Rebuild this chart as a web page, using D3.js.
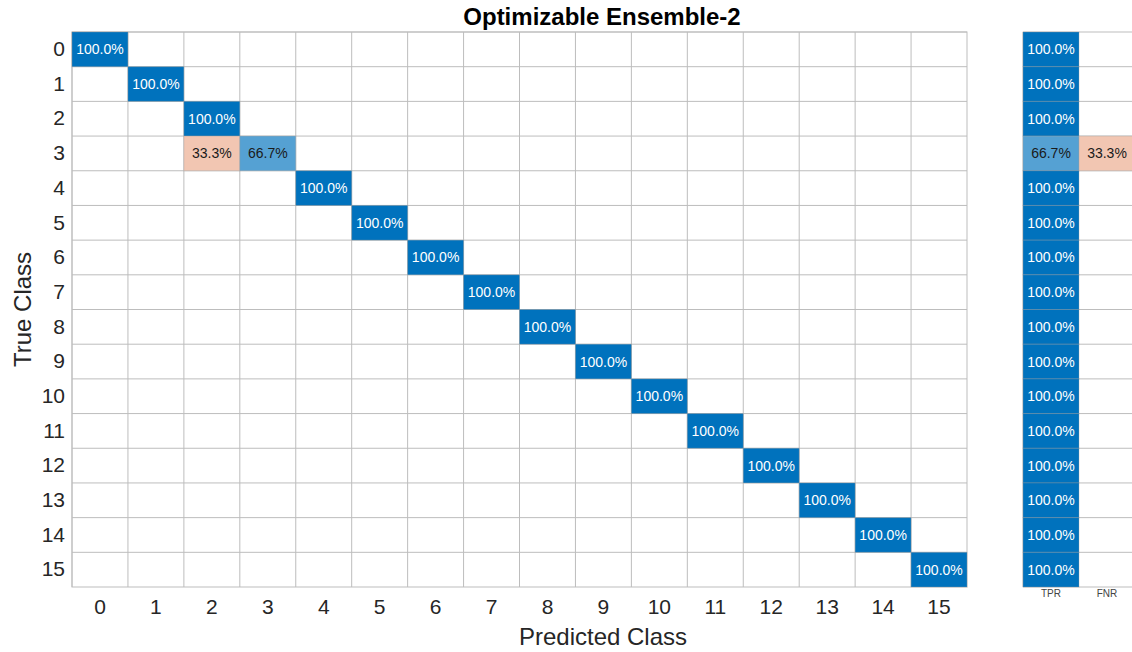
<!DOCTYPE html>
<html>
<head>
<meta charset="utf-8">
<script src="https://cdn.jsdelivr.net/npm/d3@7"></script>
<style>
  body { margin: 0; background: #fff; }
  svg { display: block; font-family: "Liberation Sans", Arial, Helvetica, sans-serif; }
</style>
</head>
<body>
<svg id="chart" width="1132" height="652"></svg>
<script>
// Class labels
const classes = ["0","1","2","3","4","5","6","7","8","9","10","11","12","13","14","15"];

// Row-normalised confusion matrix cells: [true class, predicted class, percent]
const cellTrue = [0, 1, 2, 3, 3, 4, 5, 6, 7, 8, 9, 10, 11, 12, 13, 14, 15];
const cellPred = [0, 1, 2, 2, 3, 4, 5, 6, 7, 8, 9, 10, 11, 12, 13, 14, 15];
const cellPct  = [100, 100, 100, 33.3, 66.7, 100, 100, 100, 100, 100, 100, 100, 100, 100, 100, 100, 100];

// Per-class true positive / false negative rates (percent)
const tpr = [100, 100, 100, 66.7, 100, 100, 100, 100, 100, 100, 100, 100, 100, 100, 100, 100];
const fnr = [0, 0, 0, 33.3, 0, 0, 0, 0, 0, 0, 0, 0, 0, 0, 0, 0];
const summaryCols = ["TPR", "FNR"];

const svg = d3.select("#chart");

const main = { left: 72, right: 967, top: 32, bottom: 587 };
const side = { left: 1023, right: 1135 };

const x = d3.scaleBand().domain(classes).range([main.left, main.right]);
const y = d3.scaleBand().domain(classes).range([main.top, main.bottom]);
const xs = d3.scaleBand().domain(summaryCols).range([side.left, side.right]);

const diagColor = d3.rgb(0, 114, 189);
const offColor = d3.rgb(217, 83, 25);
const diagScale = d3.scaleLinear().domain([0, 100]).range(["#ffffff", diagColor]).interpolate(d3.interpolateRgb);
const offScale = d3.scaleLinear().domain([0, 100]).range(["#ffffff", offColor]).interpolate(d3.interpolateRgb);
const textColor = v => v > 75 ? "#ffffff" : "#1a1a1a";
const fmt = v => v.toFixed(1) + "%";
const gridColor = "#bdbdbd";

// Main grid lines
const grid = svg.append("g");
classes.forEach(c => {
  grid.append("line").attr("x1", x(c)).attr("x2", x(c))
    .attr("y1", main.top).attr("y2", main.bottom)
    .attr("stroke", gridColor).attr("stroke-width", 1);
  grid.append("line").attr("x1", main.left).attr("x2", main.right)
    .attr("y1", y(c)).attr("y2", y(c))
    .attr("stroke", gridColor).attr("stroke-width", 1);
});
grid.append("rect").attr("x", main.left).attr("y", main.top)
  .attr("width", main.right - main.left).attr("height", main.bottom - main.top)
  .attr("fill", "none").attr("stroke", gridColor);

// Matrix cells
const cells = cellTrue.map((t, i) => ({ t: classes[t], p: classes[cellPred[i]], v: cellPct[i], diag: t === cellPred[i] }));
const cg = svg.append("g").selectAll("g").data(cells).join("g");
cg.append("rect")
  .attr("x", d => x(d.p)).attr("y", d => y(d.t))
  .attr("width", x.bandwidth()).attr("height", y.bandwidth())
  .attr("fill", d => d.diag ? diagScale(d.v) : offScale(d.v))
  .attr("stroke", "#9a9a9a").attr("stroke-opacity", 0.35);
cg.append("text")
  .attr("x", d => x(d.p) + x.bandwidth() / 2)
  .attr("y", d => y(d.t) + y.bandwidth() / 2)
  .attr("text-anchor", "middle").attr("dominant-baseline", "central")
  .attr("font-size", 14)
  .attr("fill", d => textColor(d.v))
  .text(d => fmt(d.v));

// Summary panel (TPR / FNR)
const sg = svg.append("g");
classes.forEach(c => {
  sg.append("line").attr("x1", side.left).attr("x2", side.right)
    .attr("y1", y(c)).attr("y2", y(c)).attr("stroke", gridColor);
});
sg.append("line").attr("x1", side.left).attr("x2", side.right)
  .attr("y1", main.bottom).attr("y2", main.bottom).attr("stroke", gridColor);
sg.append("line").attr("x1", side.left).attr("x2", side.left)
  .attr("y1", main.top).attr("y2", main.bottom).attr("stroke", gridColor);

const summary = [];
classes.forEach((c, i) => {
  if (tpr[i] > 0) summary.push({ col: "TPR", t: c, v: tpr[i], diag: true });
  if (fnr[i] > 0) summary.push({ col: "FNR", t: c, v: fnr[i], diag: false });
});
const smg = sg.selectAll("g.s").data(summary).join("g").attr("class", "s");
smg.append("rect")
  .attr("x", d => xs(d.col)).attr("y", d => y(d.t))
  .attr("width", xs.bandwidth()).attr("height", y.bandwidth())
  .attr("fill", d => d.diag ? diagScale(d.v) : offScale(d.v))
  .attr("stroke", "#9a9a9a").attr("stroke-opacity", 0.35);
smg.append("text")
  .attr("x", d => xs(d.col) + xs.bandwidth() / 2)
  .attr("y", d => y(d.t) + y.bandwidth() / 2)
  .attr("text-anchor", "middle").attr("dominant-baseline", "central")
  .attr("font-size", 14)
  .attr("fill", d => textColor(d.v))
  .text(d => fmt(d.v));

sg.selectAll("text.col").data(summaryCols).join("text").attr("class", "col")
  .attr("x", d => xs(d) + xs.bandwidth() / 2)
  .attr("y", main.bottom + 10)
  .attr("text-anchor", "middle")
  .attr("font-size", 10).attr("fill", "#444")
  .text(d => d);

// Axes tick labels
const xAxis = d3.axisBottom(x).tickSize(0).tickPadding(12);
const gx = svg.append("g").attr("transform", `translate(0,${main.bottom})`).call(xAxis);
gx.select(".domain").remove();
gx.selectAll("text").attr("font-size", 21).attr("fill", "#262626")
  .attr("font-family", "Liberation Sans, Arial, sans-serif");

const yAxis = d3.axisLeft(y).tickSize(0).tickPadding(7);
const gy = svg.append("g").attr("transform", `translate(${main.left},0)`).call(yAxis);
gy.select(".domain").remove();
gy.selectAll("text").attr("font-size", 21).attr("fill", "#262626")
  .attr("font-family", "Liberation Sans, Arial, sans-serif");

// Axis titles
svg.append("text")
  .attr("x", 603).attr("y", 645)
  .attr("text-anchor", "middle").attr("font-size", 24).attr("fill", "#262626")
  .text("Predicted Class");

svg.append("text")
  .attr("transform", `translate(31,${(main.top + main.bottom) / 2}) rotate(-90)`)
  .attr("text-anchor", "middle").attr("font-size", 24).attr("fill", "#262626")
  .text("True Class");

// Title
svg.append("text")
  .attr("x", 602).attr("y", 25)
  .attr("text-anchor", "middle").attr("font-size", 24).attr("font-weight", "bold")
  .attr("fill", "#000")
  .text("Optimizable Ensemble-2");
</script>
</body>
</html>
